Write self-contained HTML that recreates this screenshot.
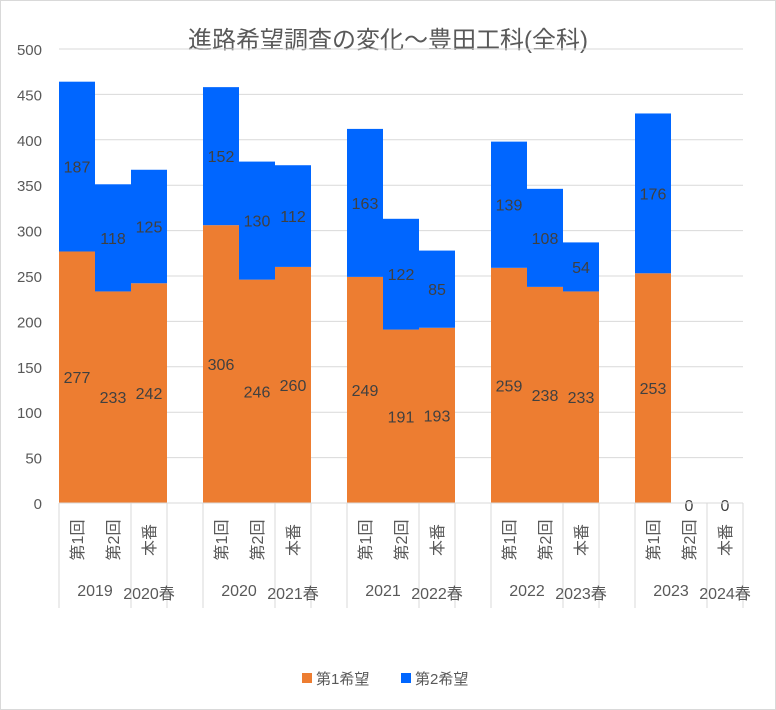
<!DOCTYPE html>
<html><head><meta charset="utf-8">
<style>
body{margin:0;background:#fff;}
svg{display:block;font-family:"Liberation Sans","Noto Sans CJK JP",sans-serif;}
</style></head>
<body>
<svg id="c" width="776" height="710" viewBox="0 0 776 710">
<rect x="0.5" y="0.5" width="775" height="709" fill="#fff" stroke="#d9d9d9"/>
<text x="388" y="48" text-anchor="middle" font-size="24" fill="#595959">進路希望調査の変化～豊田工科(全科)</text>
<g id="grid"></g><g id="bars"></g><g id="axis"></g>
<g>
<rect x="302" y="673" width="10" height="10" fill="#ED7D31"/>
<text x="316" y="684" font-size="15" fill="#595959">第1希望</text>
<rect x="401" y="673" width="10" height="10" fill="#0066FF"/>
<text x="415" y="684" font-size="15" fill="#595959">第2希望</text>
</g>
</svg>
<script>
const years=["2019","2020","2021","2022","2023"];
const springs=["2020春","2021春","2022春","2023春","2024春"];
const rounds=["第1回","第2回","本番"];
const first=[277,233,242,306,246,260,249,191,193,259,238,233,253,0,0];
const second=[187,118,125,152,130,112,163,122,85,139,108,54,176,0,0];
const yTicks=[0,50,100,150,200,250,300,350,400,450,500];
const NS="http://www.w3.org/2000/svg";
const X0=59,SLOT=36,Y0=503,YT=49,YMAX=500;
const y=v=>Y0-(v/YMAX)*(Y0-YT);
const slotX=i=>X0+(Math.floor(i/3)*4+(i%3))*SLOT;
function mk(tag,attrs,parent,txt){const e=document.createElementNS(NS,tag);for(const k in attrs)e.setAttribute(k,attrs[k]);if(txt!==undefined)e.textContent=txt;parent.appendChild(e);return e;}
const grid=document.getElementById('grid'),bars=document.getElementById('bars'),axis=document.getElementById('axis');
yTicks.forEach(t=>{
  if(t>0){const l=mk('line',{x1:X0,x2:743,y1:y(t),y2:y(t),stroke:'#d9d9d9','stroke-width':1},grid);
  
  }
  const tx=mk('text',{x:42,y:y(t)+6,'text-anchor':'end','font-size':15,fill:'#595959'},axis,String(t));
  
  
});
first.forEach((v,i)=>{
  const x=slotX(i),v2=second[i];
  const b1=mk('rect',{x:x,y:y(v),width:SLOT,height:Y0-y(v),fill:'#ED7D31'},bars);
  
  
  const b2=mk('rect',{x:x,y:y(v+v2),width:SLOT,height:y(v)-y(v+v2),fill:'#0066FF'},bars);
  
  
  if(v>0||v2>0){
    const l1=mk('text',{x:x+SLOT/2,y:(y(v)+Y0)/2+6,'text-anchor':'middle','font-size':16,fill:'#404040'},bars,String(v));
    
    
    const l2=mk('text',{x:x+SLOT/2,y:(y(v)+y(v+v2))/2+6,'text-anchor':'middle','font-size':16,fill:'#404040'},bars,String(v2));
    
    
  } else {
    const l0=mk('text',{x:x+SLOT/2,y:Y0+8,'text-anchor':'middle','font-size':16,fill:'#404040'},bars,String(v));
    
    
  }
});
const ax=mk('line',{x1:X0,x2:743,y1:Y0,y2:Y0,stroke:'#d9d9d9','stroke-width':1},axis);


years.forEach((yr,g)=>{
  const gx=X0+g*4*SLOT;
  [gx,gx+2*SLOT,gx+3*SLOT].forEach((lx,k)=>{
    const l=mk('line',{x1:lx,x2:lx,y1:Y0,y2:608,stroke:'#d9d9d9','stroke-width':1},axis);
    
    
  });
  if(g===years.length-1){const l=mk('line',{x1:gx+4*SLOT,x2:gx+4*SLOT,y1:Y0,y2:608,stroke:'#d9d9d9'},axis);
    
    }
  rounds.forEach((r,k)=>{
    const cx=gx+k*SLOT+SLOT/2+6;
    const t=mk('text',{x:cx,y:540,'text-anchor':'middle','font-size':16,fill:'#595959',transform:`rotate(-90 ${cx} 540)`},axis,r);
    
    
  });
  const ty=mk('text',{x:gx+SLOT,y:596,'text-anchor':'middle','font-size':16,fill:'#595959'},axis,yr);
  
  
  const ts=mk('text',{x:gx+2.5*SLOT,y:599,'text-anchor':'middle','font-size':16,fill:'#595959'},axis,springs[g]);
  
  
});
</script>
</body></html>
